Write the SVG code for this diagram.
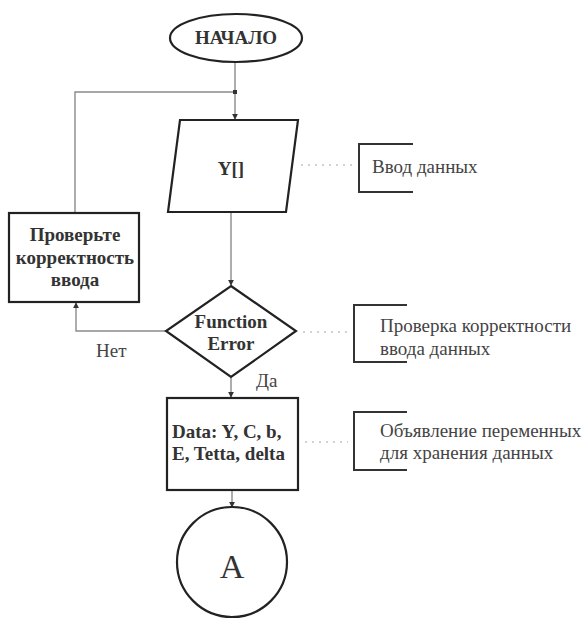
<svg xmlns="http://www.w3.org/2000/svg" width="585" height="619" viewBox="0 0 585 619">
<defs>
<style>
.shape{fill:#fff;stroke:#222;stroke-width:2.2}
.conn{fill:none;stroke:#8a8a8a;stroke-width:1.4}
.dot{fill:none;stroke:#c4c4c4;stroke-width:1.4;stroke-dasharray:2 5}
.br{fill:none;stroke:#333;stroke-width:2}
.b{font-family:"Liberation Serif",serif;font-weight:bold;font-size:19px;fill:#333}
.t{font-family:"Liberation Serif",serif;font-size:19px;fill:#444}
</style>
<marker id="ah" viewBox="0 0 8 8" refX="7" refY="4" markerWidth="6" markerHeight="6" orient="auto" markerUnits="userSpaceOnUse">
<path d="M0,0 L8,4 L0,8 Z" fill="#333"/>
</marker>
</defs>
<rect width="585" height="619" fill="#fff"/>
<g id="connectors">
<line class="conn" x1="235" y1="62" x2="235" y2="119" marker-end="url(#ah)"/>
<polyline class="conn" points="75,213 75,92 235,92"/>
<rect x="233" y="90" width="4" height="4" fill="#333"/>
<line class="conn" x1="231" y1="212" x2="231" y2="285" marker-end="url(#ah)"/>
<polyline class="conn" points="166,331 76,331 76,303" marker-end="url(#ah)"/>
<line class="conn" x1="231" y1="377" x2="231" y2="397" marker-end="url(#ah)"/>
<line class="conn" x1="232" y1="490" x2="232" y2="507" marker-end="url(#ah)"/>
<line class="dot" x1="301" y1="165" x2="352" y2="165"/>
<line class="dot" x1="303" y1="332" x2="348" y2="332"/>
<line class="dot" x1="305" y1="442" x2="348" y2="442"/>
</g>
<g id="start">
<ellipse class="shape" cx="236" cy="38" rx="66" ry="24"/>
<text class="b" x="236" y="44" text-anchor="middle">НАЧАЛО</text>
</g>
<g id="input">
<polygon class="shape" points="180,120 298,120 286,212 168,212"/>
<text class="b" x="231" y="175" text-anchor="middle">Y[]</text>
</g>
<g id="check">
<rect class="shape" x="9" y="213" width="130" height="89"/>
<text class="b" text-anchor="middle"><tspan x="75" y="241">Проверьте</tspan><tspan x="75" y="264">корректность</tspan><tspan x="75" y="286">ввода</tspan></text>
</g>
<g id="decision">
<polygon class="shape" points="231,286 296,331 231,377 166,331"/>
<text class="b" text-anchor="middle"><tspan x="231" y="328">Function</tspan><tspan x="231" y="350">Error</tspan></text>
</g>
<text class="t" x="96" y="357">Нет</text>
<text class="t" x="256" y="387">Да</text>
<g id="data">
<rect class="shape" x="167" y="398" width="131" height="92"/>
<text class="b"><tspan x="172" y="438">Data: Y, C, b,</tspan><tspan x="172" y="460">E, Tetta, delta</tspan></text>
</g>
<g id="connector-a">
<circle class="shape" cx="232" cy="562" r="55"/>
<text x="232" y="578" text-anchor="middle" font-family="Liberation Serif,serif" font-size="34" fill="#333">A</text>
</g>
<g id="note1">
<polyline class="br" points="413,144 359,144 359,192 413,192"/>
<text class="t" x="372" y="173">Ввод данных</text>
</g>
<g id="note2">
<polyline class="br" points="407,305 354,305 354,362 407,362"/>
<text class="t"><tspan x="380" y="332">Проверка корректности</tspan><tspan x="380" y="355">ввода данных</tspan></text>
</g>
<g id="note3">
<polyline class="br" points="407,412 354,412 354,470 407,470"/>
<text class="t"><tspan x="380" y="437">Объявление переменных</tspan><tspan x="380" y="459">для хранения данных</tspan></text>
</g>
</svg>
